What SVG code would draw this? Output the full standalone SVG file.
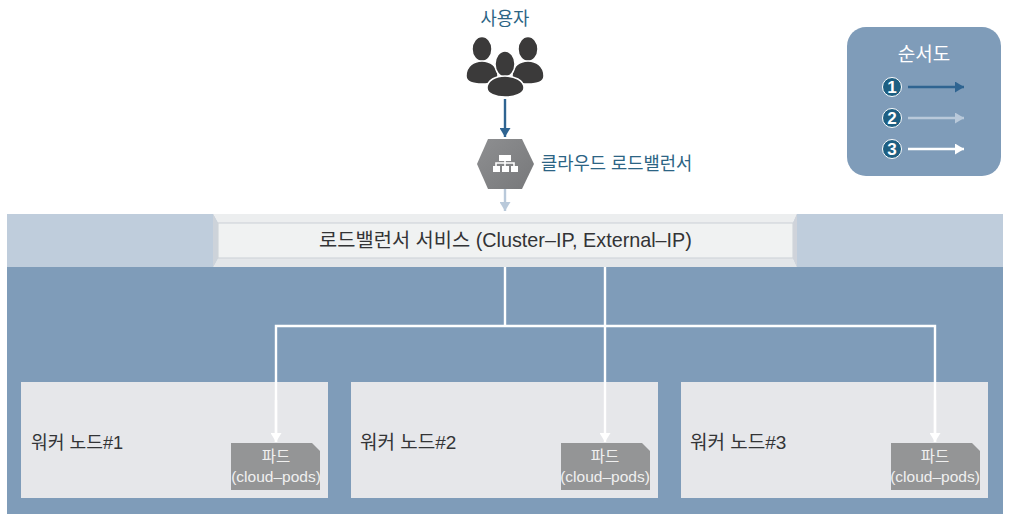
<svg xmlns="http://www.w3.org/2000/svg" width="1009" height="519" viewBox="0 0 1009 519">
<defs>
<marker id="aDark" markerUnits="userSpaceOnUse" markerWidth="10" markerHeight="11" refX="9" refY="5.5" orient="auto"><path d="M0 0L9 5.500L0 11Z" fill="#2f6491"/></marker>
<marker id="aLight" markerUnits="userSpaceOnUse" markerWidth="10" markerHeight="11" refX="9" refY="5.5" orient="auto"><path d="M0 0L9 5.500L0 11Z" fill="#b9c9da"/></marker>
<marker id="aWhite" markerUnits="userSpaceOnUse" markerWidth="10" markerHeight="11" refX="9" refY="5.5" orient="auto"><path d="M0 0L9 5.500L0 11Z" fill="#ffffff"/></marker>
<linearGradient id="hex" x1="0" y1="0" x2="1" y2="1"><stop offset="0" stop-color="#8e8f91"/><stop offset="1" stop-color="#77787a"/></linearGradient>
</defs>
<style>
text{font-family:"Liberation Sans","Noto Sans CJK KR",sans-serif}
.blue{fill:#2c6484;font-size:17.7px}
.dark{fill:#333436;font-size:18.2px}
.dark2{fill:#333436;font-size:19px}
.svc{fill:#333436;font-size:19.8px}
.pod{fill:#f0f0f0;font-size:15.5px;text-anchor:middle}
.worker{fill:#e6e7ea}
.podbox{fill:#949596}
.person{fill:#3b3a3a;stroke:#fff;stroke-width:1.5}
.line{fill:none;stroke-width:2.4}
.badge{fill:#1d5f82;stroke:#fff;stroke-width:1}
.num{fill:#fff;font-family:"Liberation Sans",sans-serif;font-weight:bold;font-size:17px;text-anchor:middle}
</style>
<rect x="7" y="214" width="996" height="53" fill="#bfcddc"/>
<rect x="7" y="267" width="996" height="247" fill="#7f9cb9"/>
<g id="lb-service">
<path d="M213 214H797L793 223H218Z" fill="#eceeef"/>
<path d="M218 258H793L797 267H213Z" fill="#e3e6e9"/>
<path d="M213 214L218 223V258L213 267Z" fill="#cdd3da"/>
<path d="M797 214L793 223V258L797 267Z" fill="#cfd3da"/>
<rect x="218" y="223" width="575" height="35" fill="#f0f2f2" stroke="#d0d5da" stroke-width="1.200"/>
<text x="505.500" y="247" text-anchor="middle" class="svc">로드밸런서 서비스 (Cluster–IP, External–IP)</text>
</g>
<g id="user">
<text x="505" y="25" text-anchor="middle" class="blue">사용자</text>
<ellipse cx="482" cy="49" rx="10" ry="12.500" class="person"/>
<ellipse cx="528" cy="49" rx="10" ry="12.500" class="person"/>
<path d="M466 76C466 66 474 61 482 61C490 61 498 66 498 76C498 82 490 84 482 84C474 84 466 82 466 76Z" class="person"/>
<path d="M512 76C512 66 520 61 528 61C536 61 544 66 544 76C544 82 536 84 528 84C520 84 512 82 512 76Z" class="person"/>
<ellipse cx="505" cy="64" rx="10" ry="13" class="person"/>
<path d="M487 88C487 80 496 76 505 76C514 76 524 80 524 88C524 94 514 97 505 97C496 97 487 94 487 88Z" class="person"/>
</g>
<g id="cloud-lb">
<path d="M488 139H522L534 164L522 189H488L477 164Z" fill="url(#hex)"/>
<path d="M505 160V166M496 166V163H514V166" fill="none" stroke="#fff" stroke-width="1.600"/>
<g fill="#fff">
<rect x="499" y="155" width="12" height="6"/>
<rect x="493" y="166" width="7" height="6"/>
<rect x="502" y="166" width="7" height="6"/>
<rect x="511" y="166" width="7" height="6"/>
</g>
<text x="541" y="170" class="blue">클라우드 로드밸런서</text>
</g>
<g id="worker-1">
<rect x="21" y="382" width="307" height="116" class="worker"/>
<text x="31" y="449" class="dark">워커 노드#1</text>
</g>
<g id="pod-1">
<path d="M231 443H312L320 451V490H231Z" class="podbox"/>
<text x="276" y="462" class="pod">파드</text>
<text x="276" y="482" class="pod">(cloud–pods)</text>
</g>
<g id="worker-2">
<rect x="351" y="382" width="307" height="116" class="worker"/>
<text x="360" y="449" class="dark2">워커 노드#2</text>
</g>
<g id="pod-2">
<path d="M561 443H642L650 451V490H561Z" class="podbox"/>
<text x="605" y="462" class="pod">파드</text>
<text x="605" y="482" class="pod">(cloud–pods)</text>
</g>
<g id="worker-3">
<rect x="681" y="382" width="307" height="116" class="worker"/>
<text x="690" y="449" class="dark2">워커 노드#3</text>
</g>
<g id="pod-3">
<path d="M891 443H972L980 451V490H891Z" class="podbox"/>
<text x="935" y="462" class="pod">파드</text>
<text x="935" y="482" class="pod">(cloud–pods)</text>
</g>
<g id="legend">
<rect x="847" y="27" width="154" height="149" rx="19" fill="#7f9cb9"/>
<text x="924" y="61" text-anchor="middle" fill="#fff" font-size="19">순서도</text>
<circle cx="892" cy="87" r="9.500" class="badge"/><text x="892" y="93" class="num">1</text>
<circle cx="892" cy="118" r="9.500" class="badge"/><text x="892" y="124" class="num">2</text>
<circle cx="892" cy="149" r="9.500" class="badge"/><text x="892" y="155" class="num">3</text>
</g>
<g id="connectors">
<line x1="505" y1="99" x2="505" y2="137" class="line" stroke="#2f6491" marker-end="url(#aDark)"/>
<line x1="505" y1="189" x2="505" y2="211" class="line" stroke="#b9c9da" marker-end="url(#aLight)"/>
<path d="M505 267V326" class="line" stroke="#fff"/>
<path d="M276 442V326H935V442" class="line" stroke="#fff"/>
<line x1="276" y1="400" x2="276" y2="442" class="line" stroke="#fff" marker-end="url(#aWhite)"/>
<line x1="605" y1="267" x2="605" y2="442" class="line" stroke="#fff" marker-end="url(#aWhite)"/>
<line x1="935" y1="400" x2="935" y2="442" class="line" stroke="#fff" marker-end="url(#aWhite)"/>
<line x1="908" y1="87" x2="964" y2="87" class="line" stroke="#2f6491" marker-end="url(#aDark)"/>
<line x1="908" y1="118" x2="964" y2="118" class="line" stroke="#b9c9da" marker-end="url(#aLight)"/>
<line x1="908" y1="149" x2="964" y2="149" class="line" stroke="#fff" marker-end="url(#aWhite)"/>
</g>
</svg>
